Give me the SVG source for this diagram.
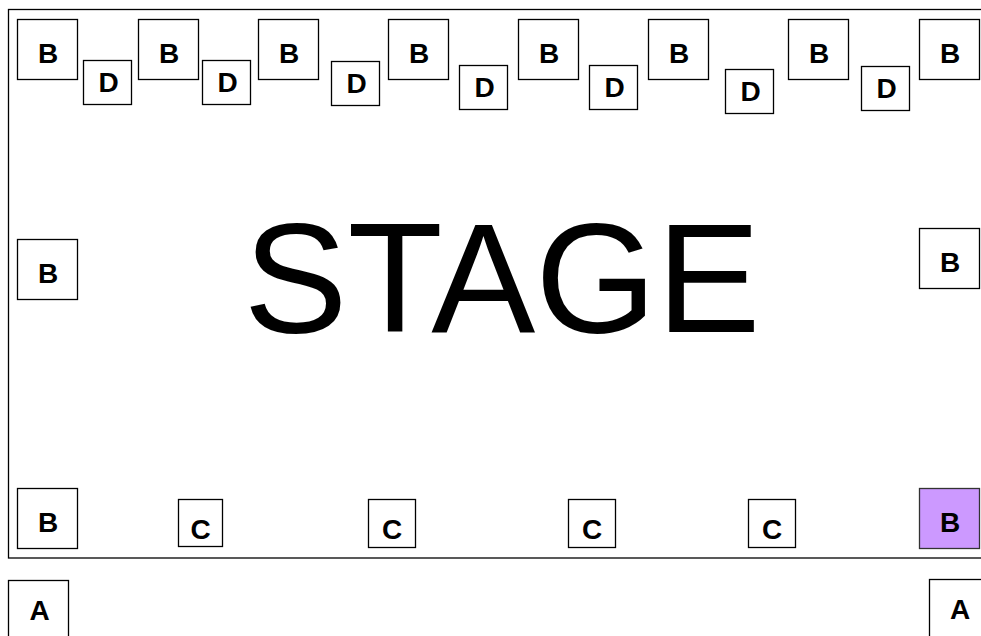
<svg xmlns="http://www.w3.org/2000/svg" width="981" height="636" viewBox="0 0 981 636">
<style>
.bx{fill:#fff;stroke:#000;stroke-width:1.3}
.pu{fill:#cc99ff;stroke:#333;stroke-width:1.3}
.t{font-family:"Liberation Sans",Arial,sans-serif;font-weight:bold;font-size:28px;text-anchor:middle;fill:#000}
.st{font-family:"Liberation Sans",Arial,sans-serif;font-size:156px;text-anchor:middle;fill:#000}
</style>
<rect width="981" height="636" fill="#fff"/>
<g id="stage">
<rect x="8.5" y="9.5" width="990" height="548.5" fill="none" stroke="#000" stroke-width="1.3"/>
<text class="st" x="502" y="331.5">STAGE</text>
</g>
<g id="b1"><rect class="bx" x="17.5" y="19.5" width="60" height="60"/><text class="t" x="48" y="62.5">B</text></g>
<g id="d1"><rect class="bx" x="83.5" y="60.5" width="48" height="44"/><text class="t" x="108.5" y="91.5">D</text></g>
<g id="b2"><rect class="bx" x="138.5" y="19.5" width="60" height="60"/><text class="t" x="169" y="62.5">B</text></g>
<g id="d2"><rect class="bx" x="202.5" y="60.5" width="48" height="44"/><text class="t" x="227.5" y="91.5">D</text></g>
<g id="b3"><rect class="bx" x="258.5" y="19.5" width="60" height="60"/><text class="t" x="289" y="62.5">B</text></g>
<g id="d3"><rect class="bx" x="331.5" y="61.5" width="48" height="44"/><text class="t" x="356.5" y="92.5">D</text></g>
<g id="b4"><rect class="bx" x="388.5" y="19.5" width="60" height="60"/><text class="t" x="419" y="62.5">B</text></g>
<g id="d4"><rect class="bx" x="459.5" y="65.5" width="48" height="44"/><text class="t" x="484.5" y="96.5">D</text></g>
<g id="b5"><rect class="bx" x="518.5" y="19.5" width="60" height="60"/><text class="t" x="549" y="62.5">B</text></g>
<g id="d5"><rect class="bx" x="589.5" y="65.5" width="48" height="44"/><text class="t" x="614.5" y="96.5">D</text></g>
<g id="b6"><rect class="bx" x="648.5" y="19.5" width="60" height="60"/><text class="t" x="679" y="62.5">B</text></g>
<g id="d6"><rect class="bx" x="725.5" y="69.5" width="48" height="44"/><text class="t" x="750.5" y="100.5">D</text></g>
<g id="b7"><rect class="bx" x="788.5" y="19.5" width="60" height="60"/><text class="t" x="819" y="62.5">B</text></g>
<g id="d7"><rect class="bx" x="861.5" y="66.5" width="48" height="44"/><text class="t" x="886.5" y="97.5">D</text></g>
<g id="b8"><rect class="bx" x="919.5" y="19.5" width="60" height="60"/><text class="t" x="950" y="62.5">B</text></g>
<g id="b9"><rect class="bx" x="17.5" y="239.5" width="60" height="60"/><text class="t" x="48" y="282.5">B</text></g>
<g id="b10"><rect class="bx" x="919.5" y="228.5" width="60" height="60"/><text class="t" x="950" y="271.5">B</text></g>
<g id="b11"><rect class="bx" x="17.5" y="488.5" width="60" height="60"/><text class="t" x="48" y="531.5">B</text></g>
<g id="c1"><rect class="bx" x="178.5" y="499.5" width="44" height="47"/><text class="t" x="200.5" y="539">C</text></g>
<g id="c2"><rect class="bx" x="368.5" y="499.5" width="47" height="48"/><text class="t" x="392" y="539">C</text></g>
<g id="c3"><rect class="bx" x="568.5" y="499.5" width="47" height="48"/><text class="t" x="592" y="539">C</text></g>
<g id="c4"><rect class="bx" x="748.5" y="499.5" width="47" height="48"/><text class="t" x="772" y="539">C</text></g>
<g id="b12"><rect class="pu" x="919.5" y="488.5" width="60" height="60"/><text class="t" x="950" y="531.5">B</text></g>
<g id="a1"><rect class="bx" x="8.5" y="580.5" width="60" height="70"/><text class="t" x="39.5" y="620">A</text></g>
<g id="a2"><rect class="bx" x="929.5" y="579.5" width="60" height="70"/><text class="t" x="960" y="619">A</text></g>
<g id="connectors"></g>
</svg>
